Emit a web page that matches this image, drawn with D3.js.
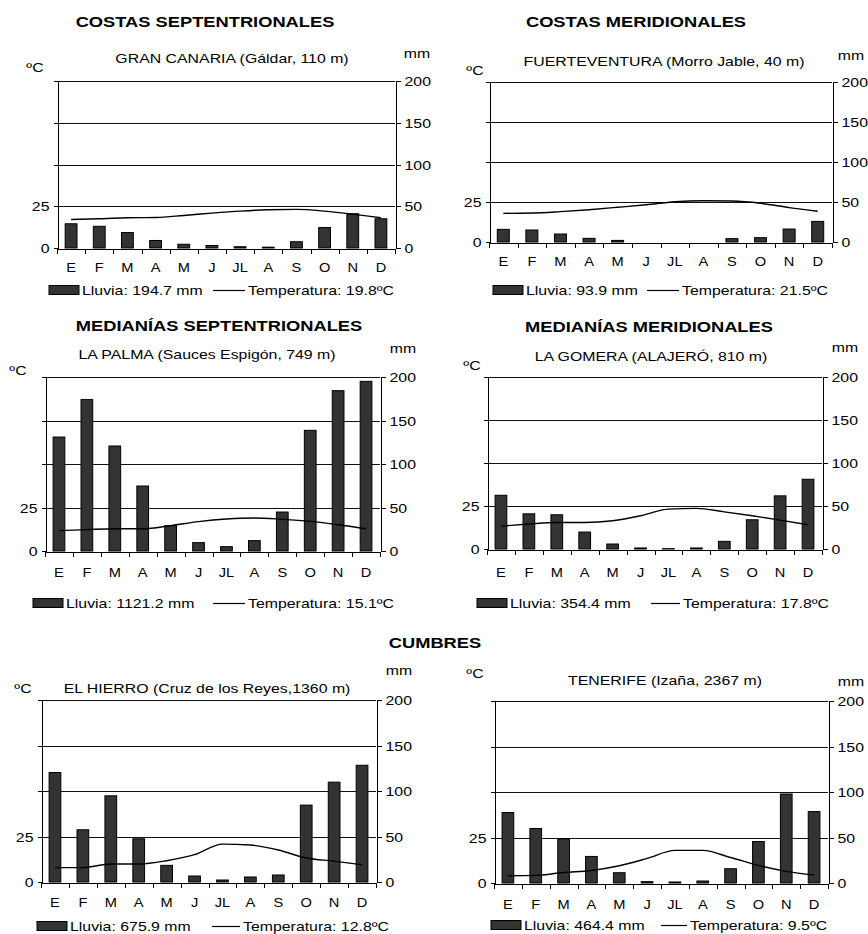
<!DOCTYPE html>
<html>
<head>
<meta charset="utf-8">
<script src="https://cdn.jsdelivr.net/npm/d3@7"></script>
<style>
  body { margin: 0; background: #fff; }
  text { font-family: "Liberation Sans", Arial, sans-serif; fill: #000; }
</style>
</head>
<body>
<svg id="chart"></svg>
<script>
const width = 868;
const height = 934;
const SX = 1.22; // the source picture is stretched sideways

const months = ["E", "F", "M", "A", "M", "J", "JL", "A", "S", "O", "N", "D"];
const groupTitles = ["COSTAS SEPTENTRIONALES", "COSTAS MERIDIONALES", "MEDIANÍAS SEPTENTRIONALES", "MEDIANÍAS MERIDIONALES", "CUMBRES"];
const stations = [
  "GRAN CANARIA (Gáldar, 110 m)",
  "FUERTEVENTURA (Morro Jable, 40 m)",
  "LA PALMA (Sauces Espigón, 749 m)",
  "LA GOMERA (ALAJERÓ, 810 m)",
  "EL HIERRO (Cruz de los Reyes,1360 m)",
  "TENERIFE (Izaña, 2367 m)"
];
const rainTotals = ["194.7", "93.9", "1121.2", "354.4", "675.9", "464.4"];
const tempMeans = ["19.8", "21.5", "15.1", "17.8", "12.8", "9.5"];

const rainGranCanaria = [29, 26, 18.5, 9, 4.5, 3, 1.5, 1, 7.5, 24.5, 41, 35];
const tempGranCanaria = [17.1, 17.5, 18.1, 18.3, 19.5, 20.9, 22.1, 22.9, 23.1, 22.1, 20.3, 18.1];
const rainFuerteventura = [15.8, 15, 10, 4.6, 2, 0, 0, 0, 4.2, 5.4, 16.2, 25.8];
const tempFuerteventura = [17.9, 18.1, 19, 20.2, 21.7, 23.3, 25.2, 25.8, 25.6, 24.2, 21.5, 19.2];
const rainLaPalma = [131, 174, 120.7, 74.7, 29.1, 9.6, 5, 11.9, 44.8, 138.7, 184.3, 195];
const tempLaPalma = [11.7, 12.3, 12.8, 12.8, 14.6, 16.9, 18.4, 19, 18.2, 17, 15.1, 12.8];
const rainLaGomera = [62.5, 40.9, 39.8, 19.7, 5.8, 1.2, 0.4, 1.2, 8.9, 34, 61.8, 81.1];
const tempLaGomera = [13.3, 14.5, 15.4, 15.4, 16.4, 19.3, 23.2, 23.6, 21.6, 19.3, 16.8, 14.1];
const rainElHierro = [120.3, 57.4, 94.7, 47.5, 18.3, 6.6, 2.2, 5.5, 7.7, 84.5, 109.7, 128.3];
const tempElHierro = [7.9, 7.9, 9.9, 9.9, 11.7, 15, 20.8, 20.3, 17.6, 13.2, 11.5, 9.5];
const rainTenerife = [77.4, 59.9, 48.5, 29.2, 11.3, 1.5, 1.1, 2.2, 15.7, 45.6, 97.8, 78.5];
const tempTenerife = [4, 4.2, 5.8, 6.9, 9.5, 13.5, 17.9, 17.9, 14, 9.7, 6.4, 4.4];

const rainTicks = [0, 50, 100, 150, 200];
const tempTicks = [0, 25, 50, 75, 100];
const tempLabels = [0, 25];

// layout: plot box [left, right, top, bottom] and text spots
const titlePos = [[205, 22], [636, 22], [219, 326], [649, 327], [435, 643]];
const panels = [
  { rain: rainGranCanaria, temp: tempGranCanaria, box: [57, 395, 81, 248], sub: [232, 58], degC: [35, 67], mm: [417, 53], monthY: 268, legY: 290, legRect: 49, legLine: [213, 245] },
  { rain: rainFuerteventura, temp: tempFuerteventura, box: [489, 832, 82, 242], sub: [664, 61], degC: [475, 70], mm: [851, 55], monthY: 262, legY: 290, legRect: 493, legLine: [647, 679] },
  { rain: rainLaPalma, temp: tempLaPalma, box: [45, 380, 377, 551], sub: [207, 354], degC: [18, 370], mm: [403, 348], monthY: 573, legY: 603, legRect: 33, legLine: [213, 245] },
  { rain: rainLaGomera, temp: tempLaGomera, box: [487, 822, 377, 549], sub: [651, 356], degC: [472, 365], mm: [845, 347], monthY: 573, legY: 603, legRect: 477, legLine: [651, 680] },
  { rain: rainElHierro, temp: tempElHierro, box: [41, 376, 700, 882], sub: [207, 688], degC: [23, 688], mm: [399, 670], monthY: 903, legY: 926, legRect: 37, legLine: [212, 240] },
  { rain: rainTenerife, temp: tempTenerife, box: [494, 828, 701, 883], sub: [665, 680], degC: [475, 673], mm: [851, 681], monthY: 905, legY: 925, legRect: 491, legLine: [661, 687] }
];

const svg = d3.select("#chart").attr("width", width).attr("height", height);

function label(g, x, y, txt, size, anchor, bold) {
  return g.append("text")
    .attr("transform", `translate(${x},${y}) scale(${SX},1)`)
    .attr("text-anchor", anchor || "middle")
    .attr("dy", "0.35em")
    .style("font-size", size + "px")
    .style("font-weight", bold ? "bold" : "normal")
    .text(txt);
}

titlePos.forEach((p, i) => label(svg, p[0], p[1], groupTitles[i], 15, "middle", true));

panels.forEach((p, i) => {
  const [left, right, top, bottom] = p.box;
  const g = svg.append("g");

  const x = d3.scaleBand().domain(d3.range(12)).range([left, right]).paddingInner(0.58).paddingOuter(0.29);
  const xEdge = d3.scaleLinear().domain([0, 12]).range([left, right]);
  const yRain = d3.scaleLinear().domain([0, 200]).range([bottom, top]);
  const yTemp = d3.scaleLinear().domain([0, 100]).range([bottom, top]);

  // grid lines
  g.append("g")
    .selectAll("line")
    .data(rainTicks.slice(1))
    .enter()
    .append("line")
    .attr("x1", left)
    .attr("x2", right)
    .attr("y1", (d) => Math.round(yRain(d)) + 0.5)
    .attr("y2", (d) => Math.round(yRain(d)) + 0.5)
    .attr("stroke", "#111")
    .attr("stroke-width", 1);

  // bars
  g.append("g")
    .selectAll("rect")
    .data(p.rain)
    .enter()
    .append("rect")
    .attr("x", (d, j) => x(j))
    .attr("y", (d) => yRain(d))
    .attr("width", x.bandwidth())
    .attr("height", (d) => bottom - yRain(d))
    .attr("fill", "#333")
    .attr("stroke", "#000")
    .attr("stroke-width", (d) => (d > 0.3 ? 1 : 0));

  // temperature line
  const line = d3.line()
    .x((d, j) => x(j) + x.bandwidth() / 2)
    .y((d) => yTemp(d))
    .curve(d3.curveMonotoneX);
  g.append("path")
    .datum(p.temp)
    .attr("d", line)
    .attr("fill", "none")
    .attr("stroke", "#000")
    .attr("stroke-width", 1.4);

  // axes
  const rightAxis = g.append("g")
    .attr("transform", `translate(${Math.round(right) + 0.5},0)`)
    .call(d3.axisRight(yRain).tickValues(rainTicks).tickSize(5).tickSizeOuter(0));
  rightAxis.selectAll("text")
    .attr("x", null)
    .attr("dy", "0.35em")
    .attr("transform", `translate(9,0) scale(${SX},1)`)
    .style("font-size", "13px");

  const leftAxis = g.append("g")
    .attr("transform", `translate(${Math.round(left) + 0.5},0)`)
    .call(d3.axisLeft(yTemp).tickValues(tempTicks).tickSize(4).tickSizeOuter(0)
      .tickFormat((d) => (tempLabels.includes(d) ? d : "")));
  leftAxis.selectAll("text")
    .attr("x", null)
    .attr("dy", "0.35em")
    .attr("transform", `translate(-8,0) scale(${SX},1)`)
    .style("font-size", "13px");

  g.append("g")
    .attr("transform", `translate(0,${Math.round(bottom) + 0.5})`)
    .call(d3.axisBottom(xEdge).tickValues(d3.range(13)).tickSize(5).tickSizeOuter(0).tickFormat(""));

  const monthAxis = g.append("g")
    .attr("transform", `translate(0,${p.monthY})`)
    .call(d3.axisBottom(x).tickSize(0).tickFormat((j) => months[j]));
  monthAxis.select(".domain").remove();
  monthAxis.selectAll("text")
    .attr("y", null)
    .attr("dy", "0.35em")
    .attr("transform", `scale(${SX},1)`)
    .style("font-size", "12px");

  g.selectAll(".domain, .tick line").attr("stroke", "#000").attr("shape-rendering", "crispEdges");

  // titles and units
  label(g, p.sub[0], p.sub[1], stations[i], 13);
  label(g, p.degC[0], p.degC[1], "ºC", 13);
  label(g, p.mm[0], p.mm[1], "mm", 13);

  // legend
  g.append("rect")
    .attr("x", p.legRect)
    .attr("y", p.legY - 4.5)
    .attr("width", 30)
    .attr("height", 9)
    .attr("fill", "#333")
    .attr("stroke", "#000");
  label(g, p.legRect + 33, p.legY, `Lluvia: ${rainTotals[i]} mm`, 13, "start");
  g.append("line")
    .attr("x1", p.legLine[0])
    .attr("x2", p.legLine[1])
    .attr("y1", p.legY + 0.5)
    .attr("y2", p.legY + 0.5)
    .attr("stroke", "#000")
    .attr("stroke-width", 1.2);
  label(g, p.legLine[1] + 3, p.legY, `Temperatura: ${tempMeans[i]}ºC`, 13, "start");
});
</script>
</body>
</html>
